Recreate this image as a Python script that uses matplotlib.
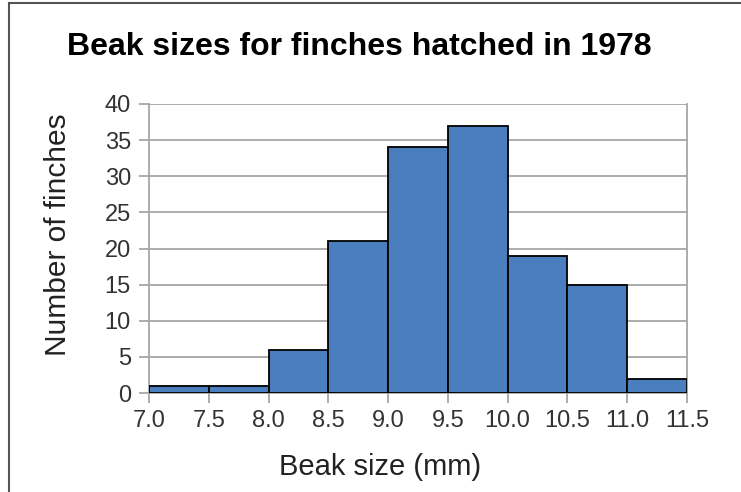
import matplotlib.pyplot as plt
import numpy as np

# bin edges and counts
bin_edges = [7.0, 7.5, 8.0, 8.5, 9.0, 9.5, 10.0, 10.5, 11.0, 11.5]
counts = [1, 1, 6, 21, 34, 37, 19, 15, 2]
x_ticks = ['7.0', '7.5', '8.0', '8.5', '9.0', '9.5', '10.0', '10.5', '11.0', '11.5']
y_ticks = [0, 5, 10, 15, 20, 25, 30, 35, 40]

plt.rcParams['font.family'] = ['Liberation Sans', 'DejaVu Sans']

W, H = 741, 492
fig = plt.figure(figsize=(W / 100, H / 100), dpi=100)
ax = fig.add_axes([149 / W, 1 - 393 / H, (687 - 149) / W, (393 - 104) / H])

gray = '#a6a6a6'
ax.bar(bin_edges[:-1], counts, width=0.5, align='edge',
       color='#4a7ebf', edgecolor='black', linewidth=1.3, zorder=3)

ax.set_xlim(7.0, 11.5)
ax.set_ylim(0, 40)
ax.set_xticks(bin_edges)
ax.set_xticklabels(x_ticks)
ax.set_yticks(y_ticks)
ax.grid(axis='y', color=gray, linewidth=1.3, zorder=0)
for s in ['left', 'right', 'bottom']:
    ax.spines[s].set_color(gray)
    ax.spines[s].set_linewidth(1.3)
ax.spines['top'].set_visible(False)
ax.tick_params(colors=gray, width=1.3, length=7, labelcolor='#333333', labelsize=17)
ax.tick_params(axis='x', pad=5)
ax.tick_params(axis='y', pad=6)

fig.text(380 / W, 1 - 467 / H, 'Beak size (mm)', ha='center', va='center',
         fontsize=21, color='#222222')
fig.text(58 / W, 1 - 235 / H, 'Number of finches', ha='center', va='center',
         rotation=90, fontsize=21.5, color='#222222')

fig.text(359 / W, 1 - 47 / H, 'Beak sizes for finches hatched in 1978',
         ha='center', va='center', fontsize=23, fontweight='bold')

# outer frame (top and left edges visible)
fig.add_artist(plt.Line2D([9 / W, 9 / W], [0, 1 - 3 / H], color='#555555', linewidth=1.5))
fig.add_artist(plt.Line2D([9 / W, 1], [1 - 3 / H, 1 - 3 / H], color='#555555', linewidth=1.5))

fig.savefig('out.png', dpi=100)
